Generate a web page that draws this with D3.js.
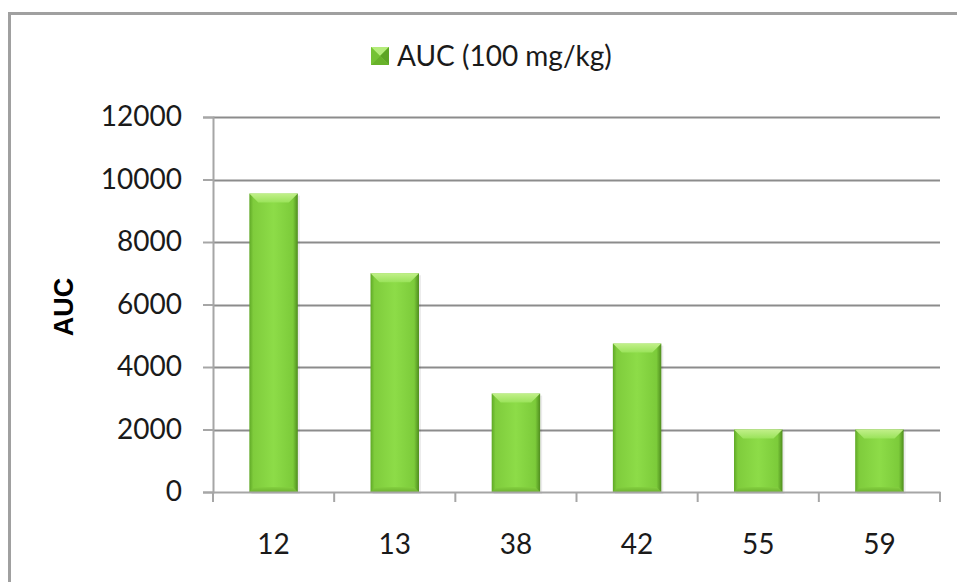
<!DOCTYPE html>
<html>
<head>
<meta charset="utf-8">
<script src="https://cdn.jsdelivr.net/npm/d3@7/dist/d3.min.js"></script>
<style>
  html, body { margin: 0; padding: 0; background: #fff; }
  svg { display: block; }
</style>
</head>
<body>
<script>
const categories = ["12", "13", "38", "42", "55", "59"];
const auc = [9550, 7000, 3150, 4750, 2000, 2000];
const yTicks = [0, 2000, 4000, 6000, 8000, 10000, 12000];
const seriesName = "AUC (100 mg/kg)";
const yTitle = "AUC";

const W = 957, H = 582;
const margin = { left: 213, right: 17, top: 117, bottom: 90 };
const svg = d3.select("body").append("svg").attr("width", W).attr("height", H);

const defs = svg.append("defs");
const gBar = defs.append("linearGradient").attr("id", "barGrad").attr("x1", "0").attr("x2", "1").attr("y1", "0").attr("y2", "0");
[[0, "#5fa826"], [0.08, "#7fcc3c"], [0.5, "#8ddc48"], [0.9, "#7ccb3a"], [1, "#4f8d1e"]].forEach(([o, c]) =>
  gBar.append("stop").attr("offset", o).attr("stop-color", c));
const gTop = defs.append("linearGradient").attr("id", "topGrad").attr("x1", "0").attr("x2", "0").attr("y1", "0").attr("y2", "1");
[[0, "#c2f08a"], [1, "#9ae35a"]].forEach(([o, c]) => gTop.append("stop").attr("offset", o).attr("stop-color", c));
const gBot = defs.append("linearGradient").attr("id", "botGrad").attr("x1", "0").attr("x2", "0").attr("y1", "0").attr("y2", "1");
[[0, "#84d040"], [1, "#6cb22e"]].forEach(([o, c]) => gBot.append("stop").attr("offset", o).attr("stop-color", c));

// outer border
svg.append("rect").attr("x", 9.5).attr("y", 13.5).attr("width", W + 10).attr("height", H + 10)
  .attr("fill", "none").attr("stroke", "#a0a0a0").attr("stroke-width", 3);

const x = d3.scaleBand().domain(categories).range([margin.left, W - margin.right]).paddingInner(0.6).paddingOuter(0.3);
const xOuter = d3.scaleBand().domain(categories).range([margin.left, W - margin.right]);
const y = d3.scaleLinear().domain([0, 12000]).range([H - margin.bottom, margin.top]);

// gridlines
svg.append("g").selectAll("line").data(yTicks.filter(d => d > 0)).join("line")
  .attr("x1", margin.left).attr("x2", W - margin.right)
  .attr("y1", d => Math.round(y(d)) + 0.5).attr("y2", d => Math.round(y(d)) + 0.5)
  .attr("stroke", "#8c8c8c").attr("stroke-width", 2);

// y axis
const yAxis = svg.append("g").attr("transform", `translate(${margin.left},0)`)
  .call(d3.axisLeft(y).tickValues(yTicks).tickSize(10).tickPadding(21).tickFormat(d3.format("d")));
yAxis.select(".domain").attr("stroke", "#a6a6a6").attr("stroke-width", 2);
yAxis.selectAll(".tick line").attr("stroke", "#a6a6a6").attr("stroke-width", 2);
yAxis.selectAll("text").attr("font-family", "Lato, 'Open Sans', sans-serif").attr("font-size", 28).attr("fill", "#1a1a1a");

// bars
const bars = svg.append("g").selectAll("g").data(categories.map((c, i) => ({ c, v: auc[i] }))).join("g");
bars.append("rect")
  .attr("x", d => x(d.c) + 2).attr("y", d => y(d.v) + 2)
  .attr("width", x.bandwidth()).attr("height", d => y(0) - y(d.v))
  .attr("fill", "#000").attr("opacity", 0.08);
bars.append("rect")
  .attr("x", d => x(d.c)).attr("y", d => y(d.v))
  .attr("width", x.bandwidth()).attr("height", d => y(0) - y(d.v))
  .attr("fill", "url(#barGrad)");
const bev = 9;
bars.append("path")
  .attr("d", d => {
    const x0 = x(d.c), x1 = x0 + x.bandwidth(), t = y(d.v);
    return `M${x0},${t}L${x1},${t}L${x1 - bev},${t + bev}L${x0 + bev},${t + bev}Z`;
  })
  .attr("fill", "url(#topGrad)");
bars.append("path")
  .attr("d", d => {
    const x0 = x(d.c), x1 = x0 + x.bandwidth(), b = y(0);
    return `M${x0},${b}L${x1},${b}L${x1 - 5},${b - 5}L${x0 + 5},${b - 5}Z`;
  })
  .attr("fill", "url(#botGrad)");

// x axis
const xAxis = svg.append("g").attr("transform", `translate(0,${y(0)})`)
  .call(d3.axisBottom(xOuter).tickSize(0).tickPadding(42));
xAxis.select(".domain").attr("stroke", "#a6a6a6").attr("stroke-width", 2);
xAxis.selectAll("text").attr("font-family", "Lato, 'Open Sans', sans-serif").attr("font-size", 28).attr("fill", "#1a1a1a");
const xBounds = categories.map(c => xOuter(c)).concat([W - margin.right]);
xAxis.append("g").selectAll("line").data(xBounds).join("line")
  .attr("x1", d => d).attr("x2", d => d).attr("y1", 0).attr("y2", 10)
  .attr("stroke", "#a6a6a6").attr("stroke-width", 2);

// y title
svg.append("text").attr("transform", `translate(73,307) rotate(-90)`)
  .attr("text-anchor", "middle").attr("font-family", "'Liberation Sans', Arial, sans-serif")
  .attr("font-weight", "bold").attr("font-size", 27).attr("fill", "#000").text(yTitle);

// legend
const lg = svg.append("g").attr("transform", "translate(371,47)");
const s = 18;
lg.append("rect").attr("width", s).attr("height", s).attr("fill", "#86d444");
lg.append("path").attr("d", `M0,0L${s},0L${s / 2},${s / 2}Z`).attr("fill", "#b4ec7a");
lg.append("path").attr("d", `M0,0L0,${s}L${s / 2},${s / 2}Z`).attr("fill", "#74c233");
lg.append("path").attr("d", `M${s},0L${s},${s}L${s / 2},${s / 2}Z`).attr("fill", "#5da524");
lg.append("path").attr("d", `M0,${s}L${s},${s}L${s / 2},${s / 2}Z`).attr("fill", "#68b22a");
lg.append("text").attr("x", 26).attr("y", 19).attr("font-family", "Lato, 'Open Sans', sans-serif")
  .attr("font-size", 28).attr("fill", "#1a1a1a").text(seriesName);
</script>
</body>
</html>
